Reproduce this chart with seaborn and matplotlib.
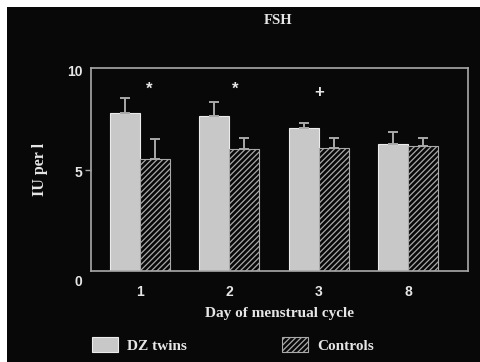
import matplotlib
matplotlib.use("Agg")
import matplotlib.pyplot as plt
import matplotlib.transforms as mtransforms
import pandas as pd
import seaborn as sns
from matplotlib.patches import Patch, Rectangle

# FSH levels by day of menstrual cycle
days = ["1", "2", "3", "8"]
groups = ["DZ twins", "Controls"]
dz_twins = [7.80, 7.62, 7.04, 6.26]
controls = [5.52, 6.03, 6.05, 6.17]
dz_err = [0.70, 0.69, 0.26, 0.61]
ctrl_err = [0.98, 0.51, 0.49, 0.40]
marks = ["*", "*", "+", ""]
y_ticks = [0, 5, 10]

df = pd.DataFrame({
    "day": days * 2,
    "group": [groups[0]] * len(days) + [groups[1]] * len(days),
    "value": dz_twins + controls,
})

sns.set_style("ticks")
plt.rcParams["hatch.linewidth"] = 0.9

BG = "#080808"
FG = "#e6e6e6"
LINE = "#a9a9a9"
BAR = "#c8c8c8"
SERIF = "Liberation Serif"
SANS = "Liberation Sans"

fig = plt.figure(figsize=(4.81, 3.62), dpi=100)
fig.patch.set_facecolor("white")
fig.add_artist(Rectangle((7 / 481, 0), 1, (362 - 7) / 362,
                         transform=fig.transFigure, facecolor=BG,
                         edgecolor="none", zorder=-10))

ax = fig.add_axes([90.5 / 481, 91 / 362, (468 - 90.5) / 481, 203 / 362])
ax.set_facecolor(BG)

sns.barplot(data=df, x="day", y="value", hue="group", order=days,
            hue_order=groups, palette={groups[0]: BAR, groups[1]: BG},
            width=0.67, gap=0, saturation=1, errorbar=None, legend=False,
            ax=ax)

# style the two series and add one-sided (upper) error bars
for i, (container, errs) in enumerate(zip(ax.containers, [dz_err, ctrl_err])):
    for bar, e in zip(container, errs):
        if i == 0:
            bar.set_facecolor(BAR)
            bar.set_edgecolor("#ececec")
            bar.set_linewidth(0.8)
        else:
            bar.set_facecolor(BG)
            bar.set_edgecolor(LINE)
            bar.set_hatch("//////")
            bar.set_linewidth(0.8)
        x = bar.get_x() + bar.get_width() / 2
        y = bar.get_height()
        ax.errorbar(x, y, yerr=[[0], [e]], fmt="none", ecolor=LINE,
                    elinewidth=1.4, capsize=3.5, capthick=1.4, zorder=1)

# significance marks above each day
offsets = [0.1, 0.06, 0.0, 0.0]
for k, (m, off) in enumerate(zip(marks, offsets)):
    if m:
        ax.text(k + off, 8.95 if m == "*" else 8.8, m, ha="center",
                va="center", color=FG, fontsize=12, fontweight="bold",
                family=SANS)

ax.set_xlim(-0.554, 3.672)
ax.set_ylim(0, 10)
ax.set_yticks(y_ticks)
ax.set_yticklabels([str(t) for t in y_ticks])

for side in ["left", "right", "top", "bottom"]:
    ax.spines[side].set_visible(True)
    ax.spines[side].set_color(LINE)
    ax.spines[side].set_linewidth(1.2)

ax.tick_params(axis="y", colors=LINE, length=4.3, width=1.0, pad=1.5,
               labelcolor=FG)
ax.tick_params(axis="x", length=0, pad=10, labelcolor=FG)
yt = ax.yaxis.get_major_ticks()
yt[0].tick1line.set_visible(False)
yt[-1].tick1line.set_visible(False)
for lab in ax.get_xticklabels() + ax.get_yticklabels():
    lab.set_family(SANS)
    lab.set_fontweight("bold")
    lab.set_fontsize(10)

# y tick labels sit a little below their ticks, the zero label more so
for lab, dy in zip(ax.get_yticklabels(), [-9, -2, -2]):
    lab.set_transform(lab.get_transform() + mtransforms.ScaledTranslation(
        0, dy / 100, fig.dpi_scale_trans))

ax.set_xlabel("Day of menstrual cycle", family=SERIF, fontweight="bold",
              fontsize=11, color=FG, labelpad=6)
ax.set_ylabel("IU per l", family=SERIF, fontweight="bold", fontsize=11.5,
              color=FG, labelpad=14)

fig.text(278 / 481, 1 - 20 / 362, "FSH", ha="center", va="center",
         family=SERIF, fontweight="bold", fontsize=10.5, color=FG)

handles = [
    Patch(facecolor=BAR, edgecolor="#ececec", linewidth=0.8, label=groups[0]),
    Patch(facecolor=BG, edgecolor=LINE, hatch="//////", linewidth=0.8,
          label=groups[1]),
]
fig.legend(handles=handles, loc="center left",
           bbox_to_anchor=(92 / 481, 1 - 345 / 362), ncol=2, frameon=False,
           borderpad=0, borderaxespad=0, handlelength=1.7, handleheight=1.05,
           handletextpad=0.6, columnspacing=6.2,
           prop={"family": SERIF, "weight": "bold", "size": 11},
           labelcolor=FG)

fig.savefig("out.png", dpi=100, facecolor=fig.get_facecolor())
